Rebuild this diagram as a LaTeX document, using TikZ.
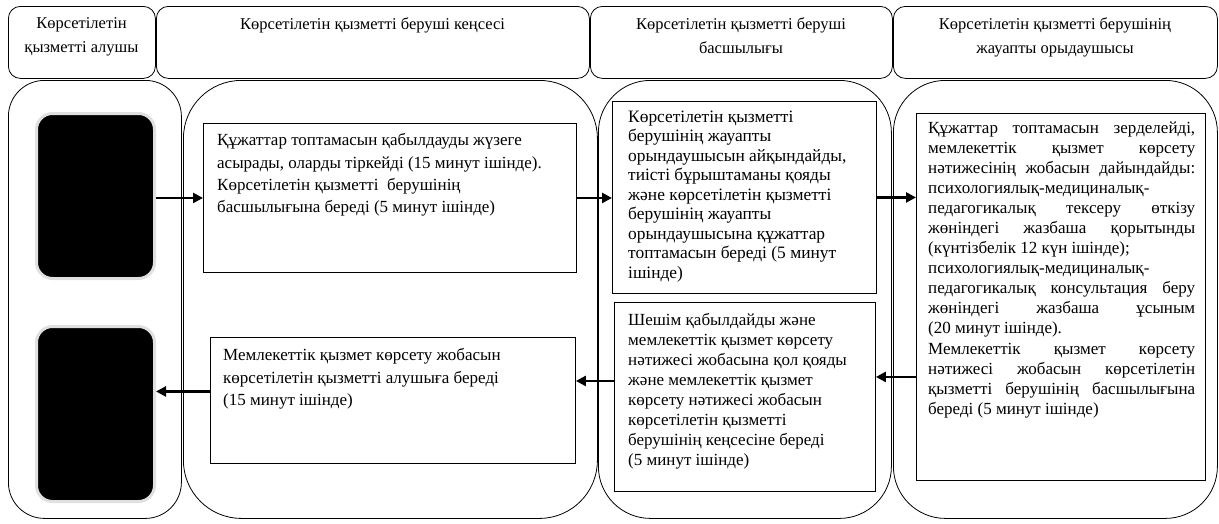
\documentclass[tikz,border=0pt]{standalone}
\usepackage{fontspec}
\setmainfont{Liberation Serif}
\usetikzlibrary{arrows.meta,calc}
\newcommand{\JL}[1]{\makebox[267pt][s]{#1}}
\begin{document}
\begin{tikzpicture}[x=1pt,y=-1pt,
  hdr/.style={draw, rounded corners=12pt, line width=0.8pt, inner sep=0, anchor=north west},
  lane/.style={draw, line width=0.8pt, inner sep=0, anchor=north west},
  blk/.style={fill=black, draw=black!12, line width=3pt, rounded corners=16pt, inner sep=0, anchor=north west},
  box/.style={draw, line width=0.9pt, inner sep=0, anchor=north west},
  htxt/.style={inner sep=0, align=center, anchor=north, font=\fontsize{16.5}{23.5}\selectfont},
  btxt/.style={inner sep=0, align=left, anchor=north west},
  arr/.style={line width=2.4pt, -{Triangle[length=10pt,width=10pt]}}
]
\useasboundingbox (0,0) rectangle (1219,523);
% headers
\node[hdr, minimum width=147pt, minimum height=72pt] (h1) at (8,6) {};
\node[hdr, minimum width=433pt, minimum height=72pt] (h2) at (156,6) {};
\node[hdr, minimum width=302pt, minimum height=72pt] (h3) at (590,6) {};
\node[hdr, minimum width=324pt, minimum height=72pt] (h4) at (893,6) {};
\node[htxt] (h1t) at (81.5,17.5) {Көрсетілетін\\қызметті алушы};
\node[htxt] (h2t) at (372.5,17.5) {Көрсетілетін қызметті беруші кеңсесі};
\node[htxt] (h3t) at (741,17.5) {Көрсетілетін қызметті беруші\\басшылығы};
\node[htxt] (h4t) at (1055,17.5) {Көрсетілетін қызметті берушінің\\жауапты орыдаушысы};
% lanes
\node[lane, rounded corners=36pt, minimum width=173pt, minimum height=438pt] (l1) at (8,80) {};
\node[lane, rounded corners=58pt, minimum width=414pt, minimum height=438pt] (l2) at (183,80) {};
\node[lane, rounded corners=52pt, minimum width=293pt, minimum height=438pt] (l3) at (598,80) {};
\node[lane, rounded corners=52pt, minimum width=324pt, minimum height=438pt] (l4) at (893,80) {};
% black boxes
\node[blk, minimum width=118pt, minimum height=165pt] (k1) at (35,112) {};
\node[blk, minimum width=118pt, minimum height=175pt] (k2) at (35,325) {};
% process boxes
\node[box, minimum width=373pt, minimum height=149pt] (a) at (203,123) {};
\node[box, minimum width=365pt, minimum height=126pt] (b) at (210,337) {};
\node[box, minimum width=264pt, minimum height=192pt] (c) at (612,101) {};
\node[box, minimum width=261pt, minimum height=189pt] (d) at (614,302) {};
\node[box, minimum width=289pt, minimum height=367pt] (e) at (916,113) {};
% texts
\node[btxt, font=\fontsize{17}{22.3}\selectfont] (at) at (217,133.4) {Құжаттар топтамасын қабылдауды жүзеге\\асырады, оларды тіркейді (15 минут ішінде).\\Көрсетілетін қызметті\ \ берушінің\\басшылығына береді (5 минут ішінде)};
\node[btxt, font=\fontsize{17}{22.5}\selectfont] (bt) at (223,348.4) {Мемлекеттік қызмет көрсету жобасын\\көрсетілетін қызметті алушыға береді\\(15 минут ішінде)};
\node[btxt, font=\fontsize{17.4}{19.5}\selectfont] (ct) at (628,110.4) {Көрсетілетін қызметті\\берушінің жауапты\\орындаушысын айқындайды,\\тиісті бұрыштаманы қояды\\және көрсетілетін қызметті\\берушінің жауапты\\орындаушысына құжаттар\\топтамасын береді (5 минут\\ішінде)};
\node[btxt, font=\fontsize{17}{20}\selectfont] (dt) at (628,313.4) {Шешім қабылдайды және\\мемлекеттік қызмет көрсету\\нәтижесі жобасына қол қояды\\және мемлекеттік қызмет\\көрсету нәтижесі жобасын\\көрсетілетін қызметті\\берушінің кеңсесіне береді\\(5 минут ішінде)};
\node[btxt, font=\fontsize{17}{20.07}\selectfont] (et) at (928,121.4) {\JL{Құжаттар топтамасын зерделейді,}\\\JL{мемлекеттік қызмет көрсету}\\\JL{нәтижесінің жобасын дайындайды:}\\психологиялық-медициналық-\\\JL{педагогикалық тексеру өткізу}\\\JL{жөніндегі жазбаша қорытынды}\\(күнтізбелік 12 күн ішінде);\\психологиялық-медициналық-\\\JL{педагогикалық консультация беру}\\\JL{жөніндегі жазбаша ұсыным}\\(20 минут ішінде).\\\JL{Мемлекеттік қызмет көрсету}\\\JL{нәтижесі жобасын көрсетілетін}\\\JL{қызметті берушінің басшылығына}\\береді (5 минут ішінде)};
% arrows
\draw[arr] (k1.east |- a.west) -- (a.west);
\draw[arr] (a.east) -- (a.east -| c.west);
\draw[arr] (c.east) -- (c.east -| e.west);
\coordinate (p4) at ([yshift=20pt]d.east);
\draw[arr] (p4 -| e.west) -- (p4);
\coordinate (p5) at ([yshift=16pt]d.west);
\draw[arr] (p5) -- (p5 -| b.east);
\coordinate (p6) at ([yshift=9pt]b.west);
\draw[arr] (p6) -- (p6 -| k2.east);
\end{tikzpicture}
\end{document}
